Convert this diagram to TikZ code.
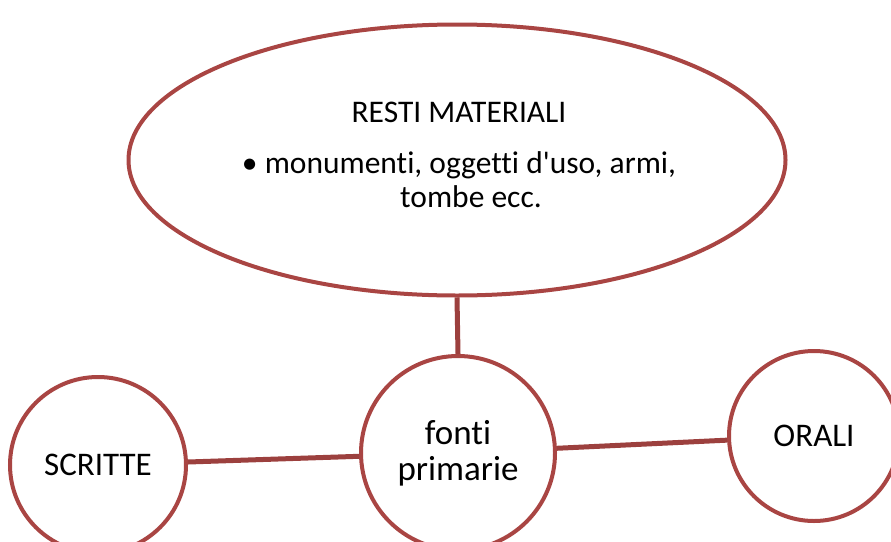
\documentclass[tikz,border=0pt]{standalone}
\usepackage{fontspec}
\setmainfont{Carlito}[Ligatures={TeXOff,CommonOff}]
\usetikzlibrary{shapes.geometric}
\definecolor{fontered}{HTML}{A94543}
\definecolor{linkred}{HTML}{9C403E}
\tikzset{
  fonte/.style={circle,draw=fontered,line width=4pt,fill=white,inner sep=0pt,align=center},
  link/.style={draw=linkred,line width=5pt}
}
\begin{document}
\begin{tikzpicture}[x=1pt,y=-1pt]
    \useasboundingbox (0,0) rectangle (891,541);
    \clip (0,0) rectangle (891,541);
    \node[ellipse,draw=fontered,line width=4pt,minimum width=657pt,minimum height=271pt] (resti) at (457,160) {};
    \node[font=\fontsize{31.5}{34}\selectfont,align=center,inner sep=0pt,anchor=north] (restitext) at (459,102)
        {RESTI MATERIALI\\[17pt] \textbullet\ monumenti, oggetti d'uso, armi,\\ \hspace*{24pt}tombe ecc.};
    \node[fonte,minimum size=194pt,font=\fontsize{35}{36}\selectfont] (primarie) at (458,453) {fonti\\primarie};
    \node[fonte,minimum size=176pt,font=\fontsize{33}{36}\selectfont] (scritte) at (98,465) {SCRITTE};
    \node[fonte,minimum size=170pt,font=\fontsize{33}{36}\selectfont] (orali) at (814,436) {ORALI};
    \draw[link] (resti.south) -- (primarie.north);
    \draw[link] (scritte) -- (primarie);
    \draw[link] (primarie) -- (orali);
\end{tikzpicture}
\end{document}
